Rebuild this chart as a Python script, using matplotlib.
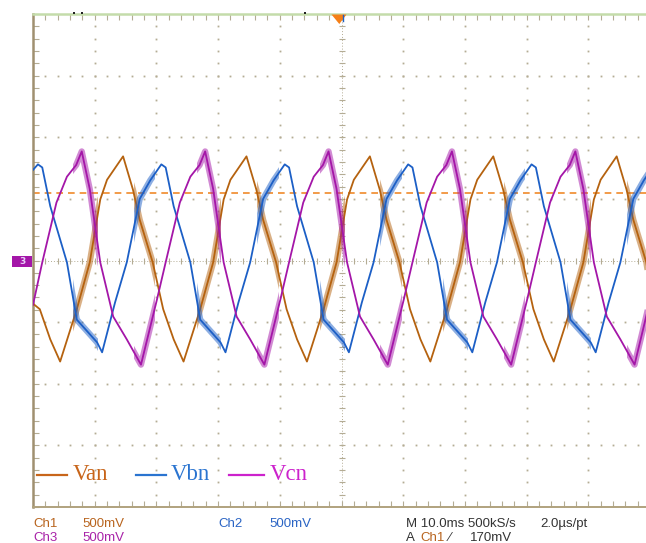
import numpy as np
import matplotlib
matplotlib.use("Agg")
import matplotlib.pyplot as plt
from matplotlib.path import Path
from matplotlib.patches import PathPatch, Polygon, Rectangle
from matplotlib.lines import Line2D

# ---- data: time in ms (10 ms/div), value in divisions ----
van_t = [0, 1.1, 2.8, 4.4, 7.1, 9.2, 10.9, 12.0, 14.6, 16.2, 17.3, 19.4,
         21.1, 22.8, 24.4, 27.1, 29.2, 30.9, 32.0, 34.6, 36.2, 37.3, 39.4,
         41.1, 42.8, 44.4, 47.1, 49.2, 50.9, 52.0, 54.6, 56.2, 57.3, 59.4,
         61.1, 62.8, 64.4, 67.1, 69.2, 70.9, 72.0, 74.6, 76.2, 77.3, 79.4,
         81.1, 82.8, 84.4, 87.1, 89.2, 90.9, 92.0, 94.6, 96.2, 97.3, 99.4, 100]
van_v = [-0.70, -0.79, -1.28, -1.64, -0.79, -0.03, 0.99, 1.31, 1.69, 1.15, 0.66, -0.03,
         -0.79, -1.28, -1.64, -0.79, -0.03, 0.99, 1.31, 1.69, 1.15, 0.66, -0.03,
         -0.79, -1.28, -1.64, -0.79, -0.03, 0.99, 1.31, 1.69, 1.15, 0.66, -0.03,
         -0.79, -1.28, -1.64, -0.79, -0.03, 0.99, 1.31, 1.69, 1.15, 0.66, -0.03,
         -0.79, -1.28, -1.64, -0.79, -0.03, 0.99, 1.31, 1.69, 1.15, 0.66, -0.03, -0.40]

vbn_t = [0, 0.8, 1.5, 2.8, 5.5, 7.1, 10.4, 11.2, 13.3, 15.2, 17.3, 19.0,
         20.8, 21.5, 22.8, 25.5, 27.1, 30.4, 31.2, 33.3, 35.2, 37.3, 39.0,
         40.8, 41.5, 42.8, 45.5, 47.1, 50.4, 51.2, 53.3, 55.2, 57.3, 59.0,
         60.8, 61.5, 62.8, 65.5, 67.1, 70.4, 71.2, 73.3, 75.2, 77.3, 79.0,
         80.8, 81.5, 82.8, 85.5, 87.1, 90.4, 91.2, 93.3, 95.2, 97.3, 99.0, 100]
vbn_v = [1.47, 1.56, 1.51, 0.88, -0.03, -0.96, -1.33, -1.49, -0.68, -0.03, 1.00, 1.30,
         1.56, 1.51, 0.88, -0.03, -0.96, -1.33, -1.49, -0.68, -0.03, 1.00, 1.30,
         1.56, 1.51, 0.88, -0.03, -0.96, -1.33, -1.49, -0.68, -0.03, 1.00, 1.30,
         1.56, 1.51, 0.88, -0.03, -0.96, -1.33, -1.49, -0.68, -0.03, 1.00, 1.30,
         1.56, 1.51, 0.88, -0.03, -0.96, -1.33, -1.49, -0.68, -0.03, 1.00, 1.30, 1.45]

vcn_t = [0, 1.5, 3.8, 5.5, 7.0, 7.9, 9.2, 10.9, 13.0, 15.2, 17.5,
         20.1, 21.5, 23.8, 25.5, 27.0, 27.9, 29.2, 30.9, 33.0, 35.2, 37.5,
         40.1, 41.5, 43.8, 45.5, 47.0, 47.9, 49.2, 50.9, 53.0, 55.2, 57.5,
         60.1, 61.5, 63.8, 65.5, 67.0, 67.9, 69.2, 70.9, 73.0, 75.2, 77.5,
         80.1, 81.5, 83.8, 85.5, 87.0, 87.9, 89.2, 90.9, 93.0, 95.2, 97.5, 100]
vcn_v = [-0.72, -0.03, 0.94, 1.36, 1.55, 1.77, 1.16, -0.03, -0.91, -1.28, -1.69,
         -0.63, -0.03, 0.94, 1.36, 1.55, 1.77, 1.16, -0.03, -0.91, -1.28, -1.69,
         -0.63, -0.03, 0.94, 1.36, 1.55, 1.77, 1.16, -0.03, -0.91, -1.28, -1.69,
         -0.63, -0.03, 0.94, 1.36, 1.55, 1.77, 1.16, -0.03, -0.91, -1.28, -1.69,
         -0.63, -0.03, 0.94, 1.36, 1.55, 1.77, 1.16, -0.03, -0.91, -1.28, -1.69, -0.65]

# time windows (ms) where the traces are noisy
noise_start = [6.5, 16.3, 26.5, 36.3, 46.5, 56.3, 66.5, 76.3, 86.5, 96.3]
noise_end = [10.5, 19.8, 30.5, 39.8, 50.5, 59.8, 70.5, 79.8, 90.5, 99.8]

trigger_level = 1.10  # divisions

series_names = ["Van", "Vbn", "Vcn"]
trace_colors = ["#b5620f", "#1c5fc6", "#a416a8"]
label_colors = ["#c8651a", "#2a74d0", "#cc22cc"]

# ---- figure ----
W, H = 646, 543
fig = plt.figure(figsize=(W / 100, H / 100), dpi=100)
fig.patch.set_facecolor("white")

def fx(px):
    return px / W

def fy(py):
    return (H - py) / H

ax = fig.add_axes([fx(33), fy(507), 617 / W, 493 / H])
ax.set_xlim(0, 100)
ax.set_ylim(-4, 4)
ax.set_facecolor("white")

grid_col = "#b4ac94"
# graticule dots
for gx in np.arange(10, 100, 10):
    if gx == 50:
        continue
    ys = np.arange(-4, 4.001, 0.2)
    ax.plot(np.full_like(ys, gx), ys, ls="none", marker="s", ms=1.3,
            mfc=grid_col, mec="none", zorder=1)
for gy in np.arange(-3, 4, 1):
    if gy == 0:
        continue
    xs = np.arange(0, 100.01, 2)
    ax.plot(xs, np.full_like(xs, gy), ls="none", marker="s", ms=1.3,
            mfc=grid_col, mec="none", zorder=1)
# center cross lines
ax.axvline(50, color=grid_col, lw=0.7, ls=(0, (1, 2)), zorder=1)
ax.axhline(0, color=grid_col, lw=0.7, ls=(0, (1, 2)), zorder=1)
cy = np.arange(-4, 4.001, 0.2)
ax.plot(np.full_like(cy, 50), cy, ls="none", marker="_", ms=5, mew=0.8,
        color=grid_col, zorder=1)
cx = np.arange(0, 100.01, 2)
ax.plot(cx, np.zeros_like(cx), ls="none", marker="|", ms=5, mew=0.8,
        color=grid_col, zorder=1)

# border ticks
ax.set_xticks([])
ax.set_yticks([])
ax.set_xticks(np.arange(0, 100.01, 2), minor=True)
ax.set_yticks(np.arange(-4, 4.001, 0.2), minor=True)
ax.tick_params(which="minor", direction="in", length=4, width=0.8,
               color=grid_col, top=True, bottom=True, left=True, right=False,
               labelbottom=False, labelleft=False)
ax.spines["left"].set_color("#a09070")
ax.spines["left"].set_linewidth(1.8)
ax.spines["bottom"].set_color("#b0a27e")
ax.spines["bottom"].set_linewidth(1.4)
ax.spines["top"].set_color("#c4dcaa")
ax.spines["top"].set_linewidth(1.8)
ax.spines["right"].set_visible(False)

# trigger level line
ax.axhline(trigger_level, color="#f08a2a", lw=1.2, ls=(0, (4, 3)), zorder=2)

# noise clip path
rects = [Path([(a, -5), (b, -5), (b, 5), (a, 5), (a, -5)],
              [Path.MOVETO, Path.LINETO, Path.LINETO, Path.LINETO, Path.CLOSEPOLY])
         for a, b in zip(noise_start, noise_end)]
noise_path = Path.make_compound_path(*rects)

series = [(van_t, van_v), (vbn_t, vbn_v), (vcn_t, vcn_v)]
for (t, v), c in zip(series, trace_colors):
    ax.plot(t, v, color=c, lw=1.3, zorder=3, solid_joinstyle="round")
    thick, = ax.plot(t, v, color=c, lw=4.5, alpha=0.5, zorder=3)
    clip = PathPatch(noise_path, transform=ax.transData, fc="none", ec="none")
    ax.add_patch(clip)
    thick.set_clip_path(clip)

# trigger position marker at top
fig.add_artist(Polygon([(fx(331.5), fy(14.5)), (fx(346.5), fy(14.5)), (fx(339.3), fy(24))],
                       closed=True, fc="#f57f17", ec="none", zorder=5))
fig.add_artist(Line2D([fx(343.3), fx(343.3)], [fy(14.5), fy(21)], color="#2060c0", lw=1.0, zorder=6))
for px in (74, 82, 305):
    fig.add_artist(Rectangle((fx(px - 1), fy(14)), 2 / W, 2 / H, fc="#222222", ec="none"))

# channel ground marker on left
fig.add_artist(Rectangle((fx(12.3), fy(267.3)), 19.4 / W, 11.6 / H, fc="#a416a8", ec="none"))
fig.text(fx(22), fy(261.5), "3", color="#e8d0f8", fontsize=6.5, ha="center", va="center",
         fontweight="bold")

# legend inside the plot
leg_line_x = [(37, 67), (136, 166), (229, 264)]
leg_text_x = [73, 171, 270]
for name, lc, tc, (x0, x1), tx in zip(series_names, trace_colors, label_colors, leg_line_x, leg_text_x):
    fig.add_artist(Line2D([fx(x0), fx(x1)], [fy(475), fy(475)], color=tc, lw=1.6))
    fig.text(fx(tx), fy(480), name, color=tc, fontsize=16.5,
             family=["Liberation Serif", "DejaVu Serif"], va="baseline", ha="left")

# scope readouts
ro_font = dict(fontsize=9.5, family=["Liberation Sans Narrow", "Liberation Sans", "DejaVu Sans"],
               va="baseline", ha="left")
orange_t = "#b8641e"
blue_t = "#2a64c4"
purple_t = "#a822a8"
dark_t = "#333333"
fig.text(fx(33), fy(527), "Ch1", color=orange_t, **ro_font)
fig.text(fx(82), fy(527), "500mV", color=orange_t, **ro_font)
fig.text(fx(33), fy(541), "Ch3", color=purple_t, **ro_font)
fig.text(fx(82), fy(541), "500mV", color=purple_t, **ro_font)
fig.text(fx(218), fy(527), "Ch2", color=blue_t, **ro_font)
fig.text(fx(269), fy(527), "500mV", color=blue_t, **ro_font)
fig.text(fx(406), fy(527), "M 10.0ms 500kS/s", color=dark_t, **ro_font)
fig.text(fx(540), fy(527), "2.0\u00b5s/pt", color=dark_t, **ro_font)
fig.text(fx(406), fy(541), "A", color=dark_t, **ro_font)
fig.text(fx(420), fy(541), "Ch1", color=orange_t, **ro_font)
fig.text(fx(449), fy(541), "\u2215", color=dark_t, **ro_font)
fig.text(fx(470), fy(541), "170mV", color=dark_t, **ro_font)

fig.savefig("out.png", dpi=100)
